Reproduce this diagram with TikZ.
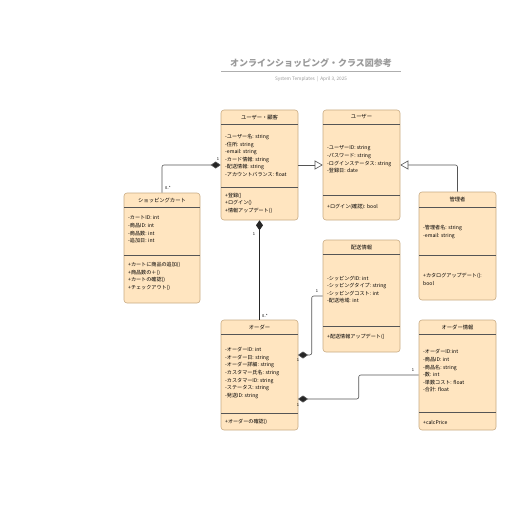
\documentclass[tikz,border=0pt]{standalone}
\usepackage{fontspec}
\setmainfont{Noto Sans CJK JP}
\usetikzlibrary{arrows.meta, positioning, calc}
\definecolor{cfill}{HTML}{FFE5C0}
\definecolor{cborder}{HTML}{C9AC84}
\definecolor{cline}{HTML}{555555}
\definecolor{cgrey}{HTML}{555555}
\definecolor{ctitle}{HTML}{9A9A9A}
\tikzset{
  every picture/.style={font=\fontsize{5}{7.5}\selectfont},
  classbox/.style={draw=cborder, fill=cfill, rounded corners=3pt, line width=0.6pt, inner sep=0pt},
  sepline/.style={draw=cline, line width=0.7pt},
  classname/.style={font=\fontsize{5.3}{6}\selectfont, inner sep=0pt},
  members/.style={anchor=west, align=left, inner sep=0pt, font=\fontsize{5.1}{7.6}\selectfont},
  assoc/.style={draw=cgrey, line width=0.6pt, rounded corners=2pt},
  comp/.style={assoc, -{Diamond[length=10pt, width=7pt, fill=black!85]}},
  gen/.style={assoc, -{Triangle[open, length=8pt, width=9pt, fill=white]}},
  mult/.style={font=\fontsize{4}{4}\selectfont, inner sep=0pt},
}

\begin{document}
\begin{tikzpicture}[x=1pt, y=-1pt]
  \useasboundingbox[fill=white] (0,0) rectangle (516,516);
  % ---------- title ----------
  \node[font=\bfseries\fontsize{9}{10}\selectfont, text=ctitle, inner sep=0pt] (title) at (311,63) {オンラインショッピング・クラス図参考};
  \coordinate (ulstart) at (221,71);
  \coordinate (ulend) at (401,71);
  \draw[draw=ctitle!80, line width=0.8pt] (ulstart) -- (ulend);
  \node[font=\fontsize{4.7}{5}\selectfont, text=ctitle, inner sep=0pt] (subtitle) at (311,79) {System Templates \ \textbar\ \ April 3, 2025};
  % ---------- class boxes ----------
  \foreach \n/\l/\t/\r/\b/\h/\s/\ttl in {
      cust/221/110/298/220/124/187/{ユーザー・顧客},
      user/323/110/400/220/124/195/{ユーザー},
      cart/124/193/200/303/207/255/{ショッピングカート},
      admin/419/192/496/300/207/255/{管理者},
      ship/323/240/400/352/254/326/{配送情報},
      order/221/320/298/430/334/413/{オーダー},
      item/419/320/496/430/334/412/{オーダー情報}} {
    \node[classbox, minimum width={(\r-\l)*1pt}, minimum height={(\b-\t)*1pt}] (\n) at ({(\l+\r)/2},{(\t+\b)/2}) {};
    \node[classname] (\n-name) at ({(\l+\r)/2},{\t+7}) {\ttl};
    \draw[sepline] (\l,\h) -- (\r,\h);
    \draw[sepline] (\l,\s) -- (\r,\s);
  }
  % ---------- members ----------
  \node[members] (cust-attr) at (225,155.5) {-ユーザー名: string\\-住所: string\\-email: string\\-カード情報: string\\-配送情報: string\\-アカウントバランス: float};
  \node[members] (cust-ops) at (225,203) {+登録()\\+ログイン()\\+情報アップデート()};
  \node[members] (user-attr) at (327,159.5) {-ユーザーID: string\\-パスワード: string\\-ログインステータス: string\\-登録日: date};
  \node[members] (user-ops) at (327,207) {+ログイン(確認): bool};
  \node[members] (cart-attr) at (128,229.5) {-カートID: int\\-商品ID: int\\-商品数: int\\-追加日: int};
  \node[members] (cart-ops) at (128,276.5) {+カートに商品の追加()\\+商品数の＋()\\+カートの確認()\\+チェックアウト()};
  \node[members] (admin-attr) at (423,232) {-管理者名: string\\-email: string};
  \node[members] (admin-ops) at (423,279.5) {+カタログアップデート():\\bool};
  \node[members] (ship-attr) at (327,289.5) {-シッピングID: int\\-シッピングタイプ: string\\-シッピングコスト: int\\-配送地域: int};
  \node[members] (ship-ops) at (327,337) {+配送情報アップデート()};
  \node[members] (order-attr) at (225,373) {-オーダーID: int\\-オーダー日: string\\-オーダー詳細: string\\-カスタマー氏名: string\\-カスタマーID: string\\-ステータス: string\\-発送ID: string};
  \node[members] (order-ops) at (225,422) {+オーダーの確認()};
  \node[members] (item-attr) at (423,371) {-オーダーID:int\\-商品ID: int\\-商品名: string\\-数: int\\-単数コスト: float\\-合計: float};
  \node[members] (item-ops) at (423,422) {+calcPrice};
  % ---------- connectors ----------
  \coordinate (order-ship) at (298,355);
  \coordinate (order-item) at (298,399);
  \draw[comp] (cart.north) |- (cust.west);
  \draw[gen] (cust.east) -- (user.west);
  \draw[gen] (admin.north) |- (user.east);
  \draw[comp, draw=black!85, line width=1.1pt] (order.north) -- (cust.south);
  \draw[comp] (ship.west) -- ++(-11,0) |- (order-ship);
  \draw[comp] (item.west) -- ++(-60,0) |- (order-item);
  % ---------- multiplicities ----------
  \node[mult] (m1) at (218,159) {1};
  \node[mult] (m2) at (168,188) {0..*};
  \node[mult] (m3) at (254,234) {1};
  \node[mult] (m4) at (265,316) {0..*};
  \node[mult] (m5) at (317,291) {1};
  \node[mult] (m6) at (298,360) {1};
  \node[mult] (m7) at (413,370) {1};
  \node[mult] (m8) at (298,405) {1};
\end{tikzpicture}
\end{document}
